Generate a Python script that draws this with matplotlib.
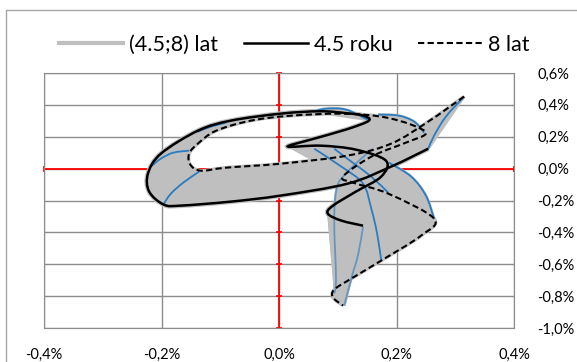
import numpy as np
import matplotlib
matplotlib.use('Agg')
from matplotlib import pyplot as plt
from matplotlib.lines import Line2D
from matplotlib.patches import Rectangle, PathPatch
from matplotlib.path import Path
from matplotlib.ticker import FuncFormatter

plt.rcParams['font.family'] = ['Lato', 'DejaVu Sans']

# krzywa 4.5 roku (x, y w %)
x45 = [0.254, 0.191, 0.117, 0.003, -0.082, -0.167, -0.196, -0.221, -0.223, -0.201,
       -0.138, -0.082, 0.003, 0.071, 0.117, 0.143, 0.153, 0.114, 0.054, 0.015,
       0.071, 0.131, 0.182, 0.174, 0.131, 0.092, 0.083, 0.106, 0.143]
y45 = [0.125, 0.013, -0.094, -0.169, -0.207, -0.232, -0.226, -0.144, -0.031, 0.094,
       0.238, 0.301, 0.345, 0.360, 0.347, 0.333, 0.301, 0.245, 0.182, 0.138,
       0.144, 0.119, 0.050, -0.050, -0.144, -0.232, -0.282, -0.326, -0.358]

# krzywa 8 lat
x8 = [0.315, 0.254, 0.191, 0.117, 0.003, -0.090, -0.133, -0.151, -0.153, -0.138,
      -0.107, -0.048, 0.020, 0.106, 0.174, 0.225, 0.250, 0.216, 0.157, 0.109,
      0.126, 0.186, 0.264, 0.242, 0.174, 0.123, 0.094, 0.092, 0.109]
y8 = [0.452, 0.295, 0.157, 0.082, 0.031, 0.006, -0.013, 0.025, 0.094, 0.157,
      0.238, 0.301, 0.332, 0.345, 0.326, 0.276, 0.220, 0.163, 0.075, -0.050,
      -0.088, -0.157, -0.314, -0.420, -0.577, -0.690, -0.759, -0.809, -0.859]

# linie niebieskie (ten sam czas, rozne wieki)
niebieskie = [
    ([0.254, 0.264, 0.284, 0.315], [0.125, 0.207, 0.326, 0.452], 1.0),
    ([0.187, 0.225, 0.250, 0.264], [0.038, -0.050, -0.169, -0.314], 1.0),
    ([0.058, 0.080, 0.114, 0.151], [0.357, 0.376, 0.370, 0.307], 1.0),
    ([0.169, 0.203, 0.230, 0.247], [0.339, 0.333, 0.295, 0.226], 1.0),
    ([0.094, 0.123, 0.157, 0.186], [0.125, 0.044, -0.050, -0.151], 1.0),
    ([0.160, 0.140, 0.114, 0.099, 0.094, 0.097, 0.094], [0.125, 0.063, -0.031, -0.113, -0.314, -0.690, -0.784], 0.6),
    ([0.060, 0.106, 0.143, 0.157, 0.167, 0.174], [0.125, 0.013, -0.094, -0.250, -0.407, -0.577], 1.0),
    ([0.143, 0.135, 0.123, 0.111], [-0.364, -0.534, -0.690, -0.859], 0.6),
    ([-0.218, -0.201, -0.180, -0.153], [0.013, 0.063, 0.100, 0.113], 1.0),
    ([-0.196, -0.184, -0.163, -0.136], [-0.220, -0.157, -0.088, -0.019], 1.0),
    ([-0.138, -0.116, -0.090], [0.232, 0.263, 0.289], 1.0),
]

xticks = [-0.4, -0.2, 0.0, 0.2, 0.4]
yticks = [-1.0, -0.8, -0.6, -0.4, -0.2, 0.0, 0.2, 0.4, 0.6]

szary = '#bfbfbf'
niebieski = '#2a7bc0'


def segmenty(xs, ys):
    # linia wygladzona jak w Excelu (Catmull-Rom -> Bezier)
    p = np.column_stack([xs, ys])
    n = len(p)
    seg = []
    for i in range(n-1):
        p0 = p[max(i-1, 0)]
        p1, p2 = p[i], p[i+1]
        p3 = p[min(i+2, n-1)]
        seg.append((p1, p1 + (p2-p0)/6, p2 - (p3-p1)/6, p2))
    return seg


def gladka(xs, ys, zamknij=False):
    seg = segmenty(xs, ys)
    v = [seg[0][0]]
    c = [Path.MOVETO]
    for s in seg:
        v += [s[1], s[2], s[3]]
        c += [Path.CURVE4]*3
    if zamknij:
        v.append(seg[0][0])
        c.append(Path.CLOSEPOLY)
    return Path(v, c)


fig = plt.figure(figsize=(5.77, 3.62), dpi=100)
ax = fig.add_axes([44/577, 1-328/362, 470/577, 255/362])
ax.set_xlim(-0.4, 0.4)
ax.set_ylim(-1.0, 0.6)
ax.set_xticks(xticks)
ax.set_yticks(yticks)
ax.grid(True, color='#8c8c8c', lw=1)
ax.set_axisbelow(True)
for s in ax.spines.values():
    s.set_color('#8c8c8c')
ax.tick_params(length=0, labelsize=10.5)
ax.yaxis.tick_right()
ax.tick_params(axis='y', pad=17)
ax.tick_params(axis='x', pad=14)
fmt = FuncFormatter(lambda v, p: ('%.1f%%' % (round(v, 2) + 0.0)).replace('.', ','))
ax.xaxis.set_major_formatter(fmt)
ax.yaxis.set_major_formatter(fmt)

# osie czerwone
ax.axhline(0, color='red', lw=1.3, zorder=1)
ax.axvline(0, color='red', lw=1.3, zorder=1)
ax.plot([0]*len(yticks), yticks, '_', color='red', ms=4, mew=1.2, zorder=1, clip_on=False)
ax.plot(xticks, [0]*len(xticks), '|', color='red', ms=4, mew=1.2, zorder=1, clip_on=False)

# obszar (4.5;8) lat
s45 = segmenty(x45, y45)
s8 = segmenty(x8, y8)
for a, b in zip(s45, s8):
    v = [a[0], a[1], a[2], a[3], b[3], b[2], b[1], b[0], a[0]]
    c = [Path.MOVETO] + [Path.CURVE4]*3 + [Path.LINETO] + [Path.CURVE4]*3 + [Path.CLOSEPOLY]
    ax.add_patch(PathPatch(Path(v, c), facecolor=szary, edgecolor=szary, lw=0.8, zorder=2))
ax.add_patch(PathPatch(gladka(x45, y45), fill=False, edgecolor=szary, lw=3.5, zorder=2))
ax.add_patch(PathPatch(gladka(x8, y8), fill=False, edgecolor=szary, lw=2.5, zorder=2))
for bx, by, a in niebieskie:
    ax.add_patch(PathPatch(gladka(bx, by, True), facecolor=szary, edgecolor=szary, lw=2, zorder=2))

for bx, by, a in niebieskie:
    ax.add_patch(PathPatch(gladka(bx, by), fill=False, edgecolor=niebieski, lw=1.3, alpha=a, zorder=3))

ax.add_patch(PathPatch(gladka(x45, y45), fill=False, edgecolor='black', lw=1.8, zorder=4))
ax.add_patch(PathPatch(gladka(x8, y8), fill=False, edgecolor='black', lw=1.5, ls=(0, (3, 1.6)), zorder=4))

h = [Line2D([], [], color=szary, lw=3),
     Line2D([], [], color='black', lw=1.8),
     Line2D([], [], color='black', lw=1.5, ls=(0, (3, 1.6)))]
fig.legend(h, ['(4.5;8) lat', '4.5 roku', '8 lat'], loc='center', bbox_to_anchor=(0.51, 1-45/362),
           ncol=3, frameon=False, fontsize=15.5, handlelength=3.0, handletextpad=0.25, columnspacing=1.2)

fig.patches.append(Rectangle((6/577, -0.1), 1.2, 1.1-10/362, transform=fig.transFigure,
                             fill=False, edgecolor='#a6a6a6', lw=1))

fig.savefig('out.png', dpi=100)
